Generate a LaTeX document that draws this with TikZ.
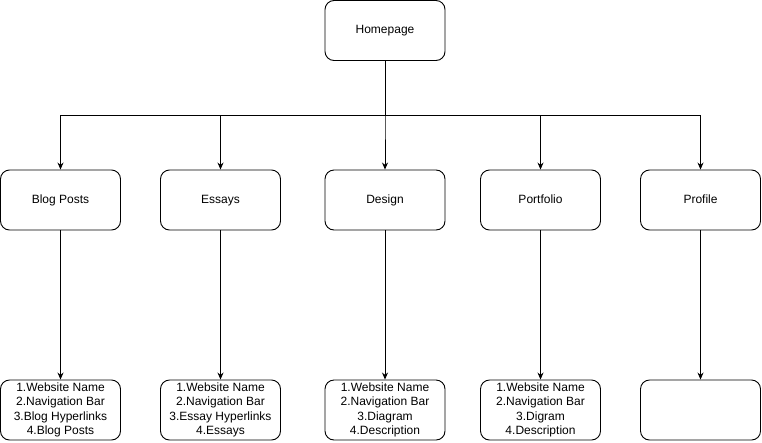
\documentclass[tikz,border=0pt]{standalone}
\usepackage{fontspec}
\setmainfont{Liberation Sans}
\usetikzlibrary{arrows.meta}
\begin{document}
\begin{tikzpicture}[x=1pt,y=1pt,
  box/.style={draw, line width=0.9pt, rounded corners=9pt, minimum width=120pt, minimum height=60pt, inner sep=0pt, align=center, font=\fontsize{12}{14.5}\selectfont},
  one/.style={box, text height=9pt, text depth=3pt},
  arr/.style={draw, line width=0.9pt, -{Stealth[length=7pt,width=6pt]}}]
\useasboundingbox (0,0) rectangle (762,-442);
\node[one] (home) at (385,-30.5) {Homepage};
\node[one] (blog) at (60.5,-200) {Blog Posts};
\node[one] (essay) at (220.5,-200) {Essays};
\node[one] (design) at (385,-200) {Design};
\node[one] (port) at (540.5,-200) {Portfolio};
\node[one] (prof) at (700.5,-200) {Profile};
\node[box] (blogd) at (60.5,-410) {1.Website Name\\2.Navigation Bar\\3.Blog Hyperlinks\\4.Blog Posts};
\node[box] (essayd) at (220.5,-410) {1.Website Name\\2.Navigation Bar\\3.Essay Hyperlinks\\4.Essays};
\node[box] (designd) at (385,-410) {1.Website Name\\2.Navigation Bar\\3.Diagram\\4.Description};
\node[box] (portd) at (540.5,-410) {1.Website Name\\2.Navigation Bar\\3.Digram\\4.Description};
\node[box] (profd) at (700.5,-410) {};
\coordinate (bus) at (385,-115);
\foreach \c in {blog,essay,design,port,prof}{
  \draw[arr] (home.south) -- (bus) -| (\c.north);
}
\draw[arr] (blog) -- (blogd);
\draw[arr] (essay) -- (essayd);
\draw[arr] (design) -- (designd);
\draw[arr] (port) -- (portd);
\draw[arr] (prof) -- (profd);
\end{tikzpicture}
\end{document}
